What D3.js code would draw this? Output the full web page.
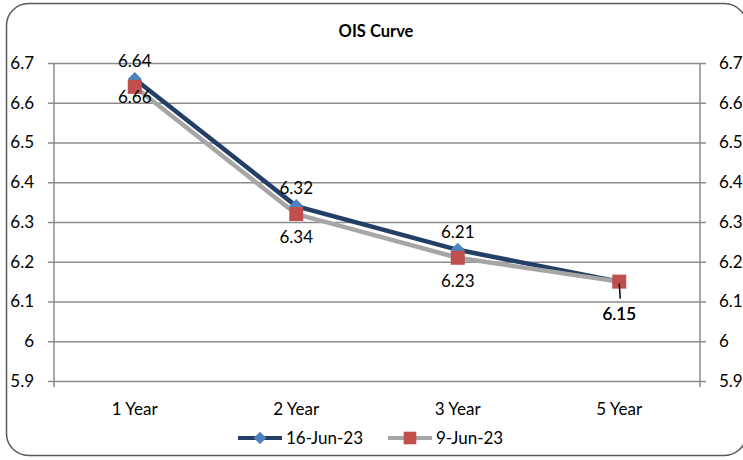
<!DOCTYPE html>
<html>
<head>
<meta charset="utf-8">
<script src="https://cdn.jsdelivr.net/npm/d3@7"></script>
<style>
  body { margin: 0; background: #fff; overflow: hidden; }
  text { font-family: Lato, "Open Sans", sans-serif; fill: #000; }
</style>
</head>
<body>
<div id="chart"></div>
<script>
// Chart data
var categories = ["1 Year", "2 Year", "3 Year", "5 Year"];
var jun16 = [6.66, 6.34, 6.23, 6.15];
var jun09 = [6.64, 6.32, 6.21, 6.15];
var yTicks = [5.9, 6, 6.1, 6.2, 6.3, 6.4, 6.5, 6.6, 6.7];

// custom diamond: square rotated 45 degrees, equal width and height
var diamond = {
    draw: function(context, size) {
        var r = Math.sqrt(size) / 2;
        context.moveTo(0, -r);
        context.lineTo(r, 0);
        context.lineTo(0, r);
        context.lineTo(-r, 0);
        context.closePath();
    }
};

var series = [
    { name: "16-Jun-23", values: jun16, line: "#243F66", marker: "#4F81BD", shape: diamond, labelPos: "below" },
    { name: "9-Jun-23", values: jun09, line: "#A6A6A6", marker: "#C0504D", shape: d3.symbolSquare, labelPos: "above" }
];

var W = 743, H = 460;
var margin = { top: 63, right: 43, bottom: 79, left: 54 };
var width = W - margin.left - margin.right;
var height = H - margin.top - margin.bottom;

var svg = d3.select("#chart").append("svg")
    .attr("width", W)
    .attr("height", H);

// Outer rounded border (right side runs off the picture)
svg.append("rect")
    .attr("x", 6.5).attr("y", 3.5)
    .attr("width", 740).attr("height", 452)
    .attr("rx", 22).attr("ry", 22)
    .attr("fill", "#fff")
    .attr("stroke", "#595959")
    .attr("stroke-width", 1.5);

// Title
svg.append("text")
    .attr("x", 376).attr("y", 37)
    .attr("text-anchor", "middle")
    .style("font-size", "16.5px")
    .style("font-weight", "bold")
    .text("OIS Curve");

var g = svg.append("g")
    .attr("transform", "translate(" + margin.left + "," + margin.top + ")");

var x = d3.scaleBand().domain(categories).range([0, width]);
var y = d3.scaleLinear().domain([5.9, 6.7]).range([height, 0]);

// Gridlines + left axis
var yLeft = g.append("g")
    .call(d3.axisLeft(y).tickValues(yTicks).tickFormat(d3.format("")).tickSize(6).tickPadding(14));
yLeft.selectAll(".tick line").clone()
    .attr("x1", 0).attr("x2", width);
yLeft.selectAll(".tick line").attr("stroke", "#8C8C8C").attr("stroke-width", 1.5);
yLeft.select(".domain").remove();
yLeft.selectAll(".tick text").style("font-size", "17px").attr("fill", "#000");

// Right axis
var yRight = g.append("g")
    .attr("transform", "translate(" + width + ",0)")
    .call(d3.axisRight(y).tickValues(yTicks).tickFormat(d3.format("")).tickSize(6).tickPadding(13));
yRight.selectAll(".tick line").attr("stroke", "#8C8C8C").attr("stroke-width", 1.5);
yRight.select(".domain").remove();
yRight.selectAll(".tick text").style("font-size", "17px").attr("fill", "#000");

// vertical axis lines
[0, width].forEach(function(xx) {
    g.append("line")
        .attr("x1", xx).attr("x2", xx)
        .attr("y1", 0).attr("y2", height + 6)
        .attr("stroke", "#8C8C8C").attr("stroke-width", 1.5);
});

// X axis labels
var xAxis = g.append("g")
    .attr("transform", "translate(0," + height + ")")
    .call(d3.axisBottom(x).tickSize(0).tickPadding(22));
xAxis.select(".domain").remove();
xAxis.selectAll(".tick text").style("font-size", "17px").attr("fill", "#000");

var line = d3.line()
    .x(function(d, i) { return x(categories[i]) + x.bandwidth() / 2; })
    .y(function(d) { return y(d); });

// Lines then markers
series.forEach(function(s) {
    g.append("path")
        .datum(s.values)
        .attr("fill", "none")
        .attr("stroke", s.line)
        .attr("stroke-width", 4.5)
        .attr("d", line);
});
series.forEach(function(s) {
    g.selectAll(null)
        .data(s.values)
        .enter().append("path")
        .attr("transform", function(d, i) {
            return "translate(" + (x(categories[i]) + x.bandwidth() / 2) + "," + y(d) + ")";
        })
        .attr("d", d3.symbol().type(s.shape).size(196))
        .attr("fill", s.marker);
});

// Data labels
var last = categories.length - 1;
series.forEach(function(s) {
    g.selectAll(null)
        .data(s.values)
        .enter().append("text")
        .attr("x", function(d, i) { return x(categories[i]) + x.bandwidth() / 2; })
        .attr("y", function(d, i) {
            if (i === last) return y(d) + 38;
            if (s.labelPos === "above") return y(d) - 20;
            return y(d) + (i === 0 ? 24 : 37);
        })
        .attr("text-anchor", "middle")
        .style("font-size", "17px")
        .text(function(d) { return d3.format(".2f")(d); });
});

// Leader line for the last point label
var lx = x(categories[last]) + x.bandwidth() / 2;
g.append("line")
    .attr("x1", lx).attr("x2", lx + 1)
    .attr("y1", y(jun16[last]) + 2).attr("y2", y(jun16[last]) + 17)
    .attr("stroke", "#000").attr("stroke-width", 1.5);

// Legend
var legend = svg.append("g").attr("transform", "translate(0,438)");
var legendX = [238, 388];
series.forEach(function(s, i) {
    var lg = legend.append("g").attr("transform", "translate(" + legendX[i] + ",0)");
    lg.append("line")
        .attr("x1", 0).attr("x2", 44)
        .attr("stroke", s.line).attr("stroke-width", 4);
    lg.append("path")
        .attr("transform", "translate(22,0)")
        .attr("d", d3.symbol().type(s.shape).size(160))
        .attr("fill", s.marker);
    lg.append("text")
        .attr("x", 48).attr("y", 6)
        .style("font-size", "17px")
        .text(s.name);
});
</script>
</body>
</html>
